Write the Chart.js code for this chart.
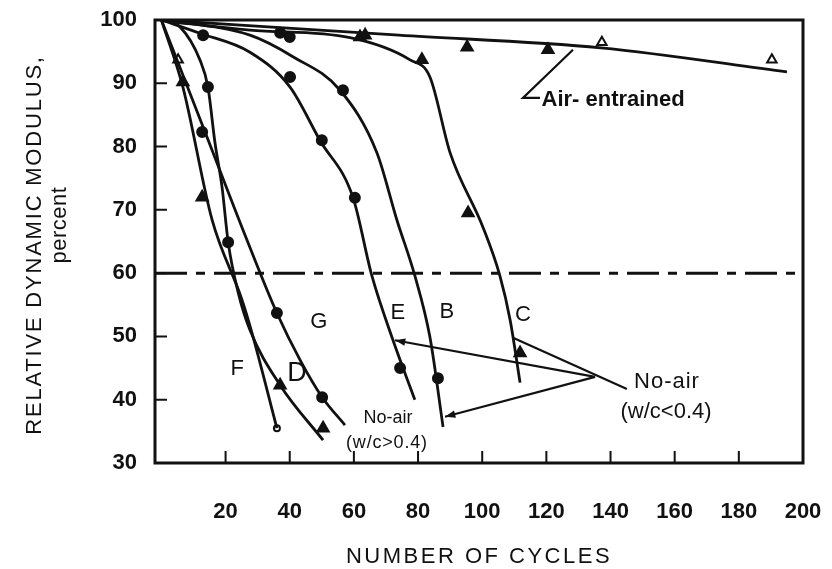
<!DOCTYPE html>
<html>
<head>
<meta charset="utf-8">
<script src="https://cdn.jsdelivr.net/npm/chart.js@4.4.0/dist/chart.umd.min.js"></script>
<style>
  html, body { margin: 0; padding: 0; background: #fff; }
  #wrap { width: 832px; height: 569px; }
</style>
</head>
<body>
<div id="wrap"><canvas id="chart" width="832" height="569"></canvas></div>
<script>
// Relative dynamic modulus vs. freeze-thaw cycles

const xTicks = [20, 40, 60, 80, 100, 120, 140, 160, 180, 200];
const yTicks = [30, 40, 50, 60, 70, 80, 90, 100];

// fitted curves (cycles / modulus %)
const fCycles = [0, 6.7, 15.8, 25.1, 28.2, 36];
const fModulus = [100, 89.4, 68.4, 55.8, 50.6, 35.5];

const dCycles = [0, 5.8, 12, 14.5, 16.7, 18.9, 20.8, 23.9, 27.6, 37, 50.4];
const dModulus = [100, 98.9, 93.7, 89.4, 80.6, 73.6, 64.9, 57, 51, 42.3, 33.6];

const gCycles = [0, 13.6, 26.7, 36, 43.2, 50.1, 57.2];
const gModulus = [100, 82.3, 65.2, 53.7, 46.3, 40.4, 36];

const eCycles = [0, 12, 27.6, 40.1, 49.4, 59.7, 65.6, 72.2, 79];
const eModulus = [100, 97.9, 94.9, 89.4, 81, 72, 59.6, 49.4, 40];

const bCycles = [0, 27.6, 41, 55.7, 67.2, 73.4, 79, 83.7, 87.8];
const bModulus = [100, 97.6, 94.2, 88.9, 79, 68.4, 59.6, 49.9, 35.7];

const cCycles = [0, 27.6, 58.8, 77.5, 83.7, 90, 100.2, 105.5, 108.7, 111.8];
const cModulus = [100, 98.4, 97.2, 93.7, 91, 79, 67.3, 59.6, 52.6, 42.7];

const airCycles = [0, 74, 137, 195];
const airModulus = [100, 97.6, 95.6, 91.8];

// 60 percent criterion
const limitCycles = [-2, 200];
const limitModulus = [60, 60];

// test results
const dotCycles = [12.7, 36, 50.1, 14.5, 20.8, 13, 40.1, 50, 60.3, 74.4, 37, 40, 56.6, 86.2];
const dotModulus = [82.3, 53.7, 40.4, 89.4, 64.9, 97.6, 91, 81, 71.9, 45, 98, 97.3, 88.9, 43.4];

const triCycles = [6.7, 12.7, 37, 50.4, 61.9, 81.2, 95.6, 111.8, 63.5, 95.3, 120.5];
const triModulus = [90.2, 72, 42.3, 35.5, 97.3, 93.7, 69.5, 47.4, 97.6, 95.7, 95.3];

const openTriCycles = [5.2, 137.3, 190.3];
const openTriModulus = [93.7, 96.5, 93.7];

const endCycles = [36];
const endModulus = [35.5];

// leader lines
const airLeadCycles = [118, 112.7, 128.3];
const airLeadModulus = [87.7, 87.7, 95.3];
const leadCCycles = [109.6, 145.1];
const leadCModulus = [49.8, 41.7];
const leadECycles = [135.2, 72.8];
const leadEModulus = [43.6, 49.4];
const leadBCycles = [135.2, 88.4];
const leadBModulus = [43.6, 37.3];

const FONT = '"Liberation Sans", Arial, sans-serif';
const INK = '#111';

const pts = (xs, ys) => xs.map((x, i) => ({ x: x, y: ys[i] }));

function curve(xs, ys) {
    return {
        type: 'line', data: pts(xs, ys), borderColor: INK, borderWidth: 2.8,
        pointRadius: 0, cubicInterpolationMode: 'monotone', fill: false
    };
}
function leader(xs, ys) {
    return {
        type: 'line', data: pts(xs, ys), borderColor: INK, borderWidth: 2.2,
        pointRadius: 0, tension: 0, fill: false
    };
}
function marks(xs, ys, style, radius, filled) {
    return {
        type: 'scatter', data: pts(xs, ys), showLine: false,
        pointStyle: style, pointRadius: radius,
        backgroundColor: filled ? INK : '#fff', borderColor: INK, borderWidth: 2
    };
}

// text labels placed at data coordinates
const labels = [
    { text: 'Air- entrained', x: 118.5, y: 87.4, size: 22, weight: 'bold', align: 'left' },
    { text: 'E', x: 73.7, y: 53.7, size: 22 },
    { text: 'B', x: 89, y: 53.9, size: 22 },
    { text: 'C', x: 112.7, y: 53.4, size: 22 },
    { text: 'G', x: 49.1, y: 52.3, size: 22 },
    { text: 'D', x: 42.3, y: 44.2, size: 27 },
    { text: 'F', x: 23.6, y: 44.9, size: 22 },
    { text: 'No-air', x: 157.6, y: 42.8, size: 22, spacing: 1 },
    { text: '(w/c<0.4)', x: 157.3, y: 38.1, size: 22 },
    { text: 'No-air', x: 70.6, y: 37.1, size: 18 },
    { text: '(w/c>0.4)', x: 70.3, y: 33.2, size: 18, spacing: 0.8 }
];

const decor = {
    id: 'decor',
    afterDatasetsDraw(chart) {
        const ctx = chart.ctx;
        const a = chart.chartArea;
        const sx = chart.scales.x, sy = chart.scales.y;
        ctx.save();
        ctx.strokeStyle = INK;
        ctx.fillStyle = INK;

        // inward ticks
        ctx.lineWidth = 2;
        ctx.beginPath();
        xTicks.slice(0, -1).forEach(v => {
            const p = sx.getPixelForValue(v);
            ctx.moveTo(p, a.bottom); ctx.lineTo(p, a.bottom - 12);
        });
        yTicks.slice(1, -1).forEach(v => {
            const p = sy.getPixelForValue(v);
            ctx.moveTo(a.left, p); ctx.lineTo(a.left + 12, p);
        });
        ctx.stroke();

        // frame
        ctx.lineWidth = 3;
        ctx.strokeRect(a.left, a.top, a.right - a.left, a.bottom - a.top);

        // arrow heads on the no-air leaders
        const heads = [[leadBCycles, leadBModulus], [leadECycles, leadEModulus]];
        heads.forEach(([xs, ys]) => {
            const x1 = sx.getPixelForValue(xs[0]), y1 = sy.getPixelForValue(ys[0]);
            const x2 = sx.getPixelForValue(xs[1]), y2 = sy.getPixelForValue(ys[1]);
            const ang = Math.atan2(y2 - y1, x2 - x1);
            ctx.beginPath();
            ctx.moveTo(x2, y2);
            ctx.lineTo(x2 - 11 * Math.cos(ang - 0.35), y2 - 11 * Math.sin(ang - 0.35));
            ctx.lineTo(x2 - 11 * Math.cos(ang + 0.35), y2 - 11 * Math.sin(ang + 0.35));
            ctx.closePath();
            ctx.fill();
        });

        // labels
        ctx.textBaseline = 'middle';
        labels.forEach(l => {
            ctx.font = (l.weight || 'normal') + ' ' + l.size + 'px ' + FONT;
            ctx.letterSpacing = (l.spacing || 0) + 'px';
            ctx.textAlign = l.align || 'center';
            ctx.fillText(l.text, sx.getPixelForValue(l.x), sy.getPixelForValue(l.y));
        });

        // axis titles
        ctx.textAlign = 'center';
        ctx.font = '22px ' + FONT;
        ctx.letterSpacing = '2.5px';
        ctx.fillText('NUMBER OF CYCLES', (a.left + a.right) / 2, 557);

        ctx.letterSpacing = '1.8px';
        ctx.save();
        ctx.translate(35, 245);
        ctx.rotate(-Math.PI / 2);
        ctx.fillText('RELATIVE DYNAMIC MODULUS,', 0, 0);
        ctx.restore();
        ctx.save();
        ctx.letterSpacing = '0.5px';
        ctx.translate(60, 225);
        ctx.rotate(-Math.PI / 2);
        ctx.fillText('percent', 0, 0);
        ctx.restore();

        ctx.restore();
    }
};

new Chart(document.getElementById('chart'), {
    type: 'line',
    data: {
        datasets: [
            curve(fCycles, fModulus),
            curve(dCycles, dModulus),
            curve(gCycles, gModulus),
            curve(eCycles, eModulus),
            curve(bCycles, bModulus),
            curve(cCycles, cModulus),
            curve(airCycles, airModulus),
            Object.assign(leader(limitCycles, limitModulus), { borderWidth: 3, borderDash: [32, 9, 9, 9] }),
            leader(airLeadCycles, airLeadModulus),
            leader(leadCCycles, leadCModulus),
            leader(leadECycles, leadEModulus),
            leader(leadBCycles, leadBModulus),
            marks(dotCycles, dotModulus, 'circle', 5, true),
            marks(triCycles, triModulus, 'triangle', 6.5, true),
            marks(openTriCycles, openTriModulus, 'triangle', 5.5, false),
            marks(endCycles, endModulus, 'circle', 3, false)
        ]
    },
    options: {
        responsive: false,
        animation: false,
        layout: { padding: { top: 20, right: 29, left: 0, bottom: 0 } },
        plugins: { legend: { display: false }, tooltip: { enabled: false } },
        scales: {
            x: {
                type: 'linear', min: -2, max: 200,
                grid: { display: false, drawTicks: false },
                border: { display: false },
                afterBuildTicks: s => { s.ticks = xTicks.map(v => ({ value: v })); },
                afterFit: s => { s.height = 106; s.paddingLeft = 0; s.paddingRight = 0; },
                ticks: { padding: 36, autoSkip: false, maxRotation: 0, color: INK, font: { family: FONT, size: 22, weight: 'bold' } }
            },
            y: {
                type: 'linear', min: 30, max: 100,
                grid: { display: false, drawTicks: false },
                border: { display: false },
                afterBuildTicks: s => { s.ticks = yTicks.map(v => ({ value: v })); },
                afterFit: s => { s.width = 155; s.paddingTop = 0; s.paddingBottom = 0; },
                ticks: { padding: 18, color: INK, font: { family: FONT, size: 22, weight: 'bold' } }
            }
        }
    },
    plugins: [decor]
});
</script>
</body>
</html>
